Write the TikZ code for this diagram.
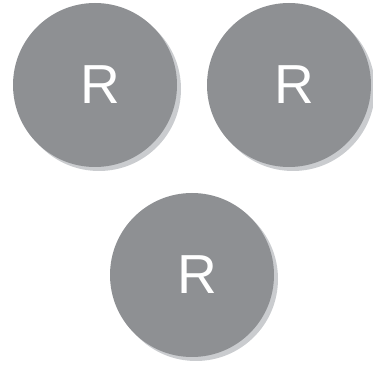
\documentclass[tikz,border=0pt]{standalone}
\usepackage{fontspec}
\setsansfont{Liberation Sans}
\usetikzlibrary{shadows}
\definecolor{discgray}{RGB}{142,144,147}
\definecolor{shadowgray}{RGB}{202,204,207}
\begin{document}
\begin{tikzpicture}[x=1pt, y=1pt, main/.style = {circle, fill=discgray, minimum size=164pt, inner sep=0pt, text=white, font=\sffamily\fontsize{55}{55}\selectfont, drop shadow={shadow xshift=4pt, shadow yshift=-4pt, fill=shadowgray, opacity=1}}]
        \useasboundingbox (0,0) rectangle (373,370);
        \node[main] (1) at (95,285) {\hspace{10pt}R};
        \node[main] (2) at (289,285) {\hspace{10pt}R};
        \node[main] (3) at (192,95) {\hspace{10pt}R};
        \end{tikzpicture}
\end{document}
